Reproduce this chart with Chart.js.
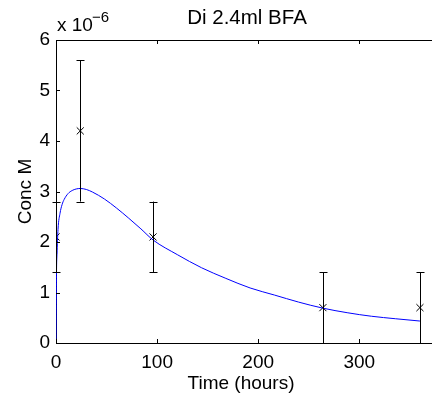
<!DOCTYPE html>
<html>
<head>
<meta charset="utf-8">
<script src="https://cdn.jsdelivr.net/npm/chart.js@4/dist/chart.umd.min.js"></script>
<style>
  html, body { margin: 0; padding: 0; background: #fff; }
  #wrap { width: 432px; height: 402px; }
</style>
</head>
<body>
<div id="wrap"><canvas id="concChart" width="432" height="402"></canvas></div>
<script>
// values are in units of 1e-6 M (axis shows "x 10^-6")
const sampleTimes = [0, 24, 96, 264, 360];
const sampleConc = [2.1, 4.2, 2.1, 0.7, 0.7];
const errLow = [1.4, 2.8, 1.4, 0.0, 0.0];
const errHigh = [2.8, 5.6, 2.8, 1.4, 1.4];

const fitTimes = [0, 0.5, 1, 2, 4, 6, 8, 12, 16, 20, 24, 30, 36, 48, 60, 72, 84, 96,
    120, 144, 168, 192, 216, 240, 264, 288, 312, 336, 360];
const fitConc = [0, 1.4, 1.75, 2.25, 2.57, 2.74, 2.84, 2.96, 3.02, 3.05, 3.06, 3.04, 2.99, 2.85,
    2.67, 2.47, 2.26, 2.04, 1.75, 1.49, 1.28, 1.09, 0.95, 0.81, 0.69, 0.6, 0.53, 0.48, 0.435];

const xTicks = [0, 100, 200, 300];
const yTicks = [0, 1, 2, 3, 4, 5, 6];

const FONT = 'Arial, "Liberation Sans", Helvetica, sans-serif';

const noPadding = () => ({ left: 0, top: 0, right: 0, bottom: 0 });

// error bars, inward ticks, top border, title and exponent label
const matlabAxes = {
    id: 'matlabAxes',
    afterDatasetsDraw(chart) {
        const { ctx, chartArea: a, scales: { x, y } } = chart;
        ctx.save();
        ctx.strokeStyle = '#000';
        ctx.lineWidth = 1;

        sampleTimes.forEach((t, i) => {
            const px = Math.round(x.getPixelForValue(t)) + 0.5;
            const lo = y.getPixelForValue(errLow[i]);
            const hi = y.getPixelForValue(errHigh[i]);
            ctx.beginPath();
            ctx.moveTo(px, lo); ctx.lineTo(px, hi);
            ctx.moveTo(px - 4, Math.round(lo) + 0.5); ctx.lineTo(px + 4, Math.round(lo) + 0.5);
            ctx.moveTo(px - 4, Math.round(hi) + 0.5); ctx.lineTo(px + 4, Math.round(hi) + 0.5);
            ctx.stroke();
        });

        // axes box runs on past the right edge of the picture
        ctx.beginPath();
        ctx.moveTo(a.left, a.top + 0.5); ctx.lineTo(chart.width, a.top + 0.5);
        ctx.moveTo(a.right - 1, a.bottom + 0.5); ctx.lineTo(chart.width, a.bottom + 0.5);
        xTicks.forEach(v => {
            const px = Math.round(x.getPixelForValue(v)) + 0.5;
            ctx.moveTo(px, a.bottom); ctx.lineTo(px, a.bottom - 4);
            ctx.moveTo(px, a.top); ctx.lineTo(px, a.top + 4);
        });
        yTicks.forEach(v => {
            const py = Math.round(y.getPixelForValue(v)) + 0.5;
            ctx.moveTo(a.left, py); ctx.lineTo(a.left + 4, py);
        });
        ctx.stroke();

        ctx.fillStyle = '#000';
        ctx.textBaseline = 'alphabetic';
        ctx.font = '20.5px ' + FONT;
        ctx.textAlign = 'center';
        ctx.fillText('Di 2.4ml BFA', 247, 24);
        ctx.textAlign = 'left';
        ctx.font = '19px ' + FONT;
        ctx.fillText('x 10', 57, 31);
        ctx.font = '15px ' + FONT;
        ctx.fillText('\u22126', 92, 22);
        ctx.restore();
    }
};

function initializeChart() {
    const ctx = document.getElementById('concChart').getContext('2d');

    new Chart(ctx, {
        type: 'scatter',
        data: {
            datasets: [
                {
                    label: 'fit',
                    data: fitTimes.map((t, i) => ({ x: t, y: fitConc[i] })),
                    showLine: true,
                    borderColor: '#0000ff',
                    borderWidth: 1,
                    pointRadius: 0,
                    cubicInterpolationMode: 'monotone'
                },
                {
                    label: 'measured',
                    data: sampleTimes.map((t, i) => ({ x: t, y: sampleConc[i] })),
                    showLine: false,
                    pointStyle: 'crossRot',
                    pointRadius: 5,
                    borderColor: '#000',
                    borderWidth: 1,
                    backgroundColor: '#000'
                }
            ]
        },
        options: {
            responsive: false,
            animation: false,
            layout: { padding: { left: 0, top: 40, right: 0, bottom: 0 } },
            plugins: {
                legend: { display: false },
                tooltip: { enabled: false }
            },
            scales: {
                x: {
                    type: 'linear',
                    min: 0,
                    max: 366,
                    afterFit: scale => {
                        scale.height = 59;
                        scale.paddingLeft = 0;
                        scale.paddingRight = 0;
                        scale.getPadding = noPadding;
                    },
                    afterBuildTicks: scale => { scale.ticks = xTicks.map(v => ({ value: v })); },
                    grid: { display: false, drawTicks: false },
                    border: { display: true, color: '#000', width: 1 },
                    ticks: {
                        color: '#000',
                        font: { family: FONT, size: 19 },
                        padding: 8,
                        maxRotation: 0
                    },
                    title: {
                        display: true,
                        text: 'Time (hours)',
                        color: '#000',
                        font: { family: FONT, size: 19 },
                        padding: { top: 0, bottom: 7 }
                    }
                },
                y: {
                    type: 'linear',
                    min: 0,
                    max: 6,
                    afterFit: scale => {
                        scale.width = 56;
                        scale.paddingTop = 0;
                        scale.paddingBottom = 0;
                        scale.getPadding = noPadding;
                    },
                    afterBuildTicks: scale => { scale.ticks = yTicks.map(v => ({ value: v })); },
                    grid: { display: false, drawTicks: false },
                    border: { display: true, color: '#000', width: 1 },
                    ticks: {
                        color: '#000',
                        font: { family: FONT, size: 19 },
                        padding: 6
                    },
                    title: {
                        display: true,
                        text: 'Conc M',
                        color: '#000',
                        font: { family: FONT, size: 19 },
                        padding: { top: 14, bottom: 0 }
                    }
                }
            }
        },
        plugins: [matlabAxes]
    });
}

document.addEventListener('DOMContentLoaded', initializeChart);
</script>
</body>
</html>
